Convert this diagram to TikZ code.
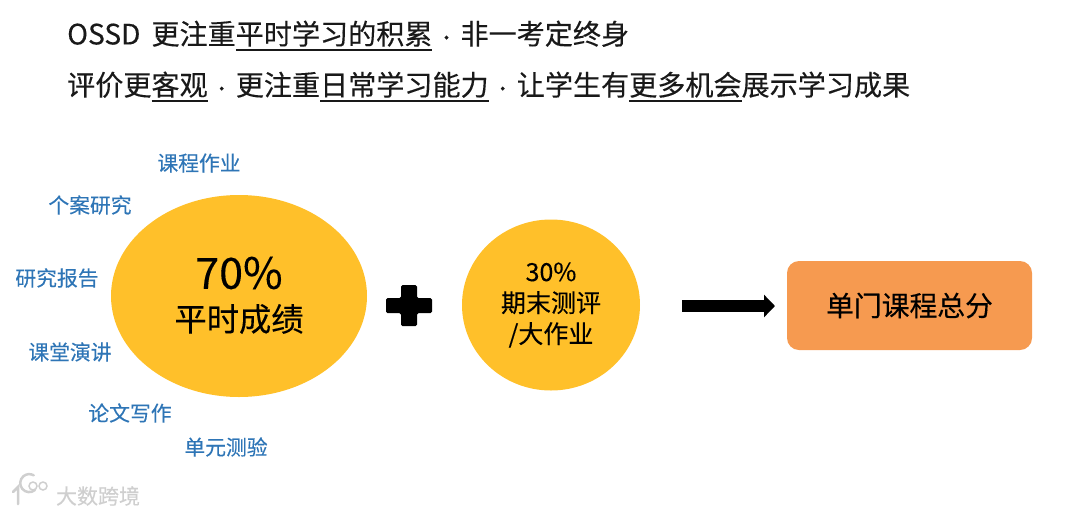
\documentclass[tikz,border=0pt]{standalone}
\usepackage{fontspec}
\usepackage{tikz}
\usetikzlibrary{arrows.meta}
\usetikzlibrary{shapes.geometric}
\setmainfont[UprightFeatures={FakeBold=0.25}]{Noto Sans CJK SC}
\definecolor{sunny}{HTML}{FFC02A}
\definecolor{peach}{HTML}{F69A50}
\definecolor{topic}{HTML}{2E75B6}
\definecolor{wmgray}{HTML}{CFCFCF}
\newcommand{\fs}[1]{\fontsize{#1}{1.2\dimexpr#1pt\relax}\selectfont}
\newcommand{\hl}[1]{\setbox0\hbox{#1}\rlap{\rule[-7pt]{\wd0}{2pt}}\box0}
\newcommand{\dotgap}{\makebox[28.1pt]{\fs{18}·}}
\tikzstyle{headline}=[anchor=west,inner sep=0pt,font=\fs{28.1},text=black!90]
\tikzstyle{topicitem}=[inner sep=0pt,font=\fs{20.8},text=topic]
\tikzstyle{blob}=[shape=ellipse,fill=sunny,inner sep=0pt,align=center]
\tikzstyle{mainedge}=[-{Triangle[length=11pt,width=22pt]},line width=12pt,black]

\begin{document}
\begin{tikzpicture}[x=1pt,y=-1pt]
\useasboundingbox (0,0) rectangle (1080,515);
% Headlines
\node[headline] (n0_0) at (67,36) {OSSD\hspace{11pt}更注重\hl{平时学习的积累}\dotgap 非一考定终身};
\node[headline] (n0_1) at (67,87) {评价更\hl{客观}\dotgap 更注重\hl{日常学习能力}\dotgap 让学生有\hl{更多机会}展示学习成果};
% Big ellipse
\node[blob,minimum width=256pt,minimum height=202pt] (n1_0) at (239,296) {};
\node[inner sep=0pt,font=\fs{43}] (n1_1) at (239,273) {70\%};
\node[inner sep=0pt,font=\fs{32.3}] (n1_2) at (239,319) {平时成绩};
% Items round the ellipse
\node[topicitem] (n2_0) at (199,163) {课程作业};
\node[topicitem] (n2_1) at (90,205) {个案研究};
\node[topicitem] (n2_2) at (57,278) {研究报告};
\node[topicitem] (n2_3) at (70,352) {课堂演讲};
\node[topicitem] (n2_4) at (130,413) {论文写作};
\node[topicitem] (n2_5) at (226,447) {单元测验};
% Plus
\fill[black,rounded corners=1.5pt] (401,285) -- (417,285) -- (417,298) -- (432,298) -- (432,313) -- (417,313) -- (417,326) -- (401,326) -- (401,313) -- (386,313) -- (386,298) -- (401,298) -- cycle;
% Small circle
\node[blob,minimum width=178pt,minimum height=171pt,font=\fs{25}] (n3_0) at (551,305) {30\%\\[1pt]期末测评\\[1pt]/大作业};
% Arrow
\coordinate (n4_0) at (682,306);
\coordinate (n4_1) at (775,306);
\draw[mainedge] (n4_0) -- (n4_1);
% Total
\node[fill=peach,rounded corners=12pt,minimum width=245pt,minimum height=89pt,inner sep=0pt,font=\fs{27.8}] (n5_0) at (909.5,305.5) {单门课程总分};
% Watermark
\draw[wmgray,line width=2.5pt,line cap=round] (13,492) -- (18,487) -- (18,504);
\draw[wmgray,line width=2.5pt,line cap=round] (35,490) arc (50:300:9);
\draw[wmgray,line width=1.5pt] (33,486) circle (4);
\draw[wmgray,line width=1.5pt] (43,486) circle (4);
\node[inner sep=0pt,font=\fs{21},text=wmgray] (n6_0) at (98,496) {大数跨境};
\end{tikzpicture}
\end{document}
